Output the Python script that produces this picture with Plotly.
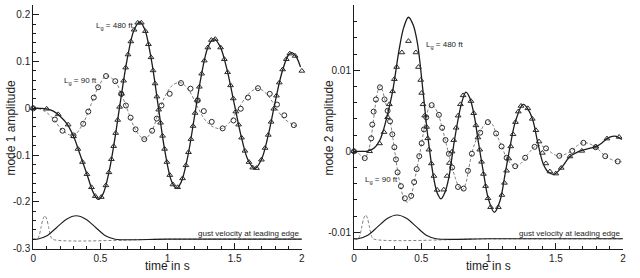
import numpy as np
import plotly.graph_objects as go

# ---------------- data ----------------
x_tick_vals = [0, 0.5, 1, 1.5, 2]
x_tick_text = ["0", "0.5", "1", "1.5", "2"]
y1_tick_vals = [-0.3, -0.2, -0.1, 0, 0.1, 0.2]
y1_tick_text = ["-0.3", "-0.2", "-0.1", "0", "0.1", "0.2"]
y2_tick_vals = [-0.01, 0, 0.01]
y2_tick_text = ["-0.01", "0", "0.01"]

# mode 1, L_g = 480 ft (solid line)
m1_480_line_t = [0, 0.05, 0.1, 0.15, 0.2, 0.25, 0.3, 0.35, 0.4, 0.45, 0.485, 0.52, 0.56, 0.6, 0.65, 0.7, 0.75, 0.793,
                 0.83, 0.88, 0.93, 0.98, 1.03, 1.066, 1.1, 1.15, 1.2, 1.25, 1.3, 1.343, 1.39, 1.44, 1.5, 1.55, 1.6,
                 1.65, 1.7, 1.75, 1.8, 1.85, 1.9, 1.926, 1.96, 1.99]
m1_480_line_v = [0, 0, -0.001, -0.006, -0.017, -0.033, -0.06, -0.1, -0.141, -0.182, -0.195, -0.183, -0.142, -0.079,
                 0.016, 0.106, 0.167, 0.185, 0.169, 0.103, 0.006, -0.091, -0.156, -0.171, -0.159, -0.104, -0.019,
                 0.068, 0.13, 0.149, 0.133, 0.086, 0.005, -0.062, -0.111, -0.129, -0.109, -0.057, 0.012, 0.075,
                 0.114, 0.119, 0.109, 0.088]
# mode 1, L_g = 480 ft (triangles)
m1_480_sym_t = [0, 0.1, 0.186, 0.26, 0.30, 0.333, 0.367, 0.40, 0.434, 0.462, 0.507, 0.541, 0.564, 0.582, 0.599, 0.614,
                0.629, 0.643, 0.658, 0.673, 0.688, 0.706, 0.727, 0.751, 0.778, 0.805, 0.835, 0.858, 0.877, 0.892,
                0.907, 0.921, 0.934, 0.948, 0.963, 0.978, 0.995, 1.017, 1.040, 1.075, 1.112, 1.137, 1.156, 1.174,
                1.19, 1.205, 1.221, 1.237, 1.254, 1.274, 1.3, 1.326, 1.355, 1.395, 1.423, 1.447, 1.469, 1.489, 1.508,
                1.529, 1.551, 1.576, 1.606, 1.634, 1.662, 1.699, 1.726, 1.75, 1.771, 1.791, 1.811, 1.832, 1.857,
                1.884, 1.91, 1.95, 2.0]
m1_480_sym_v = [0, -0.001, -0.013, -0.035, -0.06, -0.087, -0.115, -0.141, -0.169, -0.188, -0.19, -0.165, -0.137,
                -0.109, -0.081, -0.053, -0.025, 0.003, 0.031, 0.059, 0.087, 0.115, 0.143, 0.168, 0.183, 0.183, 0.165,
                0.137, 0.109, 0.081, 0.053, 0.025, -0.003, -0.031, -0.059, -0.087, -0.115, -0.143, -0.163, -0.169,
                -0.15, -0.122, -0.094, -0.066, -0.038, -0.01, 0.018, 0.046, 0.074, 0.102, 0.13, 0.146, 0.148, 0.13,
                0.105, 0.077, 0.049, 0.021, -0.007, -0.035, -0.063, -0.091, -0.115, -0.127, -0.128, -0.11, -0.085,
                -0.057, -0.029, -0.001, 0.027, 0.055, 0.083, 0.105, 0.117, 0.112, 0.08]
# mode 1, L_g = 90 ft (dashed line)
m1_90_line_t = [0, 0.05, 0.1, 0.16, 0.22, 0.3, 0.37, 0.41, 0.45, 0.485, 0.542, 0.61, 0.655, 0.69, 0.73, 0.77, 0.827,
                0.88, 0.93, 0.98, 1.04, 1.10, 1.16, 1.22, 1.28, 1.34, 1.41, 1.47, 1.53, 1.6, 1.673, 1.74, 1.8, 1.86,
                1.94, 1.98]
m1_90_line_v = [0, -0.002, -0.009, -0.026, -0.048, -0.058, -0.033, -0.007, 0.023, 0.045, 0.069, 0.058, 0.031, 0.006,
                -0.025, -0.05, -0.066, -0.05, -0.012, 0.025, 0.05, 0.0545, 0.038, 0.005, -0.025, -0.04, -0.043,
                -0.027, 0.0, 0.03, 0.0426, 0.03, 0.005, -0.02, -0.036, -0.04]
# mode 1, L_g = 90 ft (circles)
m1_90_sym_t = [0, 0.161, 0.218, 0.30, 0.372, 0.41, 0.451, 0.483, 0.542, 0.611, 0.655, 0.69, 0.725, 0.762, 0.827,
               0.885, 0.92, 0.955, 1.016, 1.10, 1.171, 1.225, 1.27, 1.329, 1.41, 1.491, 1.545, 1.599, 1.673, 1.761,
               1.815, 1.869, 1.94]
m1_90_sym_v = [0, -0.024, -0.048, -0.058, -0.033, -0.007, 0.023, 0.045, 0.069, 0.058, 0.031, 0.006, -0.02, -0.045,
               -0.066, -0.048, -0.022, 0.006, 0.031, 0.054, 0.042, 0.017, -0.006, -0.029, -0.043, -0.026, -0.001,
               0.023, 0.043, 0.031, 0.008, -0.015, -0.036]

# mode 2 values are given in thousandths (x 1e-3)
m2_480_line_t = [0, 0.05, 0.1, 0.15, 0.19, 0.214, 0.25, 0.287, 0.336, 0.37, 0.405, 0.44, 0.471, 0.513, 0.552, 0.594,
                 0.62, 0.647, 0.675, 0.704, 0.748, 0.802, 0.832, 0.86, 0.896, 0.92, 0.962, 0.999, 1.043, 1.085,
                 1.122, 1.159, 1.2, 1.257, 1.3, 1.33, 1.367, 1.404, 1.44, 1.485, 1.54, 1.605, 1.65, 1.693, 1.75,
                 1.796, 1.84, 1.88, 1.92, 1.95, 1.99]
m2_480_line_milli = [0, 0, 0.02, 0.4, 1.3, 2.37, 4.6, 7.4, 12.6, 15.3, 16.55, 15.6, 13.4, 7.4, 1.37, -3.45, -5.2,
                     -5.86, -5.1, -3.3, 1.5, 6.1, 7.3, 6.6, 4.18, 1.6, -2.6, -5.9, -7.55, -6.1, -2.9, 0.5, 3.7, 5.78,
                     5.0, 3.78, 0.97, -1.45, -2.5, -2.85, -2.05, -0.64, -0.2, 0.1, 0.35, 0.57, 1.0, 1.57, 1.85, 1.85,
                     1.45]
m2_480_sym_t = [0, 0.116, 0.19, 0.223, 0.25, 0.263, 0.287, 0.30, 0.317, 0.356, 0.405, 0.46, 0.479, 0.496, 0.503,
                0.513, 0.525, 0.54, 0.548, 0.557, 0.575, 0.594, 0.618, 0.667, 0.692, 0.709, 0.729, 0.741, 0.759,
                0.774, 0.791, 0.811, 0.869, 0.89, 0.906, 0.921, 0.935, 0.948, 0.962, 0.978, 0.996, 1.015, 1.073,
                1.099, 1.118, 1.134, 1.15, 1.165, 1.182, 1.2, 1.221, 1.241, 1.292, 1.325, 1.352, 1.375, 1.4, 1.426,
                1.456, 1.5, 1.54, 1.605, 1.693, 1.796, 1.88, 1.97]
m2_480_sym_milli = [0, 0, 0.97, 2.37, 4.2, 5.8, 7.4, 8.9, 10.4, 12.2, 13.6, 12.2, 10.4, 8.8, 7.2, 5.8, 4.4, 3.0, 1.6,
                    0.2, -1.5, -3.05, -4.77, -4.74, -3.05, -1.45, -0.04, 1.37, 2.9, 4.4, 5.8, 6.9, 6.2, 4.7, 3.2,
                    1.7, 0.2, -1.3, -2.8, -4.3, -5.8, -6.9, -6.9, -5.4, -3.9, -2.4, -0.9, 0.6, 2.1, 3.6, 4.9, 5.6,
                    5.3, 4.0, 2.6, 1.2, -0.2, -1.5, -2.5, -2.75, -2.05, -0.64, 0.05, 0.57, 1.57, 1.77]
m2_90_line_t = [0, 0.03, 0.06, 0.08, 0.1, 0.12, 0.14, 0.16, 0.18, 0.195, 0.21, 0.227, 0.25, 0.27, 0.29, 0.31, 0.33,
                0.35, 0.37, 0.395, 0.42, 0.445, 0.465, 0.485, 0.505, 0.52, 0.537, 0.555, 0.577, 0.6, 0.63, 0.655,
                0.68, 0.705, 0.73, 0.755, 0.78, 0.805, 0.83, 0.85, 0.875, 0.905, 0.94, 0.97, 1.0, 1.03, 1.056, 1.08,
                1.1, 1.134, 1.17, 1.2, 1.24, 1.276, 1.31, 1.342, 1.385, 1.427, 1.47, 1.51, 1.55, 1.59, 1.62, 1.66,
                1.698, 1.74, 1.796, 1.83, 1.865, 1.91, 1.956, 1.99]
m2_90_line_milli = [0, -0.2, -0.7, -0.85, -0.3, 0.9, 3.2, 5.8, 7.6, 8.0, 7.6, 6.5, 5.0, 3.6, 1.5, -0.8, -3.0, -4.6,
                    -5.8, -6.3, -5.8, -4.0, -2.4, -0.6, 1.2, 2.7, 4.2, 5.3, 5.7, 5.4, 4.4, 2.9, 1.3, -0.4, -2.0,
                    -3.4, -4.4, -4.75, -4.0, -2.4, -0.3, 1.3, 2.5, 3.3, 3.7, 3.3, 2.2, 1.3, 0.5, -0.8, -1.6, -1.85,
                    -1.5, -0.7, 0.0, 0.55, 0.72, 0.38, -0.2, -0.55, -0.5, -0.2, 0.1, 0.7, 1.05, 1.0, 0.5, 0.0, -0.55,
                    -1.0, -1.25, -1.3]
m2_90_sym_t = [0, 0.08, 0.128, 0.136, 0.146, 0.163, 0.193, 0.227, 0.25, 0.268, 0.285, 0.3, 0.312, 0.324, 0.349,
               0.378, 0.425, 0.447, 0.466, 0.485, 0.503, 0.52, 0.537, 0.577, 0.631, 0.655, 0.68, 0.705, 0.729, 0.773,
               0.815, 0.847, 0.876, 0.938, 0.995, 1.056, 1.097, 1.134, 1.198, 1.272, 1.342, 1.427, 1.526, 1.622,
               1.705, 1.796, 1.867, 1.96]
m2_90_sym_milli = [0, -0.84, 1.6, 3.3, 4.9, 6.4, 7.9, 6.4, 5.0, 3.7, 2.1, 0.5, -1.0, -2.6, -4.3, -5.8, -5.5, -3.8,
                   -2.2, -0.6, 1.0, 2.7, 4.2, 5.7, 4.5, 2.9, 1.4, -0.3, -2.0, -4.4, -4.6, -2.4, -0.3, 2.3, 3.6, 2.2,
                   0.6, -0.8, -1.84, -0.8, 0.55, 0.36, -0.56, 0.05, 1.05, 0.5, -0.6, -1.25]

# gust velocity traces (drawn on each plot's own scale)
gust480_t = [0, 0.03, 0.1025, 0.175, 0.2475, 0.32, 0.3925, 0.465, 0.5375, 0.61, 1.0, 2.0]
gust90_t = [0, 0.03, 0.044, 0.058, 0.072, 0.087, 0.101, 0.115, 0.129, 0.143, 1.0, 2.0]
gust_m1_v = [-0.28, -0.28, -0.2727, -0.255, -0.2373, -0.23, -0.2373, -0.255, -0.2727, -0.28, -0.28, -0.28]
gust_m2_milli = [-10.8, -10.8, -10.37, -9.335, -8.30, -7.87, -8.30, -9.335, -10.37, -10.8, -10.8, -10.8]

milli = 1e-3
m2_480_line_v = list(np.array(m2_480_line_milli) * milli)
m2_480_sym_v = list(np.array(m2_480_sym_milli) * milli)
m2_90_line_v = list(np.array(m2_90_line_milli) * milli)
m2_90_sym_v = list(np.array(m2_90_sym_milli) * milli)
gust_m2_v = list(np.array(gust_m2_milli) * milli)

# ---------------- figure ----------------
FONT = "Liberation Sans, Arial, Helvetica, sans-serif"
INK = "#1c1c1c"
GRAY = "#808080"
SYM = "#2a2a2a"

fig = go.Figure()


def add_panel(xa, ya, g_v, l480_t, l480_v, s480_t, s480_v, l90_t, l90_v, s90_t, s90_v):
    fig.add_trace(go.Scatter(x=gust90_t, y=g_v, mode="lines", xaxis=xa, yaxis=ya,
                             line=dict(color=GRAY, width=1, dash="3px,2px", shape="spline", smoothing=0.8),
                             showlegend=False, hoverinfo="skip"))
    fig.add_trace(go.Scatter(x=gust480_t, y=g_v, mode="lines", xaxis=xa, yaxis=ya,
                             line=dict(color=INK, width=1.1, shape="spline", smoothing=0.8),
                             showlegend=False, hoverinfo="skip"))
    fig.add_trace(go.Scatter(x=l90_t, y=l90_v, mode="lines", xaxis=xa, yaxis=ya,
                             line=dict(color=GRAY, width=1, dash="3px,2px", shape="spline", smoothing=1.0),
                             showlegend=False))
    fig.add_trace(go.Scatter(x=s90_t, y=s90_v, mode="markers", xaxis=xa, yaxis=ya, cliponaxis=False,
                             marker=dict(symbol="circle-open", size=5, color=SYM, line=dict(width=1, color=SYM)),
                             showlegend=False))
    fig.add_trace(go.Scatter(x=l480_t, y=l480_v, mode="lines", xaxis=xa, yaxis=ya,
                             line=dict(color=INK, width=1.3, shape="spline", smoothing=1.0),
                             showlegend=False))
    fig.add_trace(go.Scatter(x=s480_t, y=s480_v, mode="markers", xaxis=xa, yaxis=ya, cliponaxis=False,
                             marker=dict(symbol="triangle-up-open", size=5, color=SYM, line=dict(width=1, color=SYM)),
                             showlegend=False))


add_panel("x", "y", gust_m1_v, m1_480_line_t, m1_480_line_v, m1_480_sym_t, m1_480_sym_v,
          m1_90_line_t, m1_90_line_v, m1_90_sym_t, m1_90_sym_v)
add_panel("x2", "y2", gust_m2_v, m2_480_line_t, m2_480_line_v, m2_480_sym_t, m2_480_sym_v,
          m2_90_line_t, m2_90_line_v, m2_90_sym_t, m2_90_sym_v)

W, H = 640, 278


def px_x(p):
    return p / W


def px_y(p):
    return 1 - p / H


common_axis = dict(showline=True, linecolor=INK, linewidth=1, ticks="inside", ticklen=6, tickwidth=1,
                   tickcolor=INK, showgrid=False, zeroline=False,
                   tickfont=dict(family=FONT, size=10, color=INK))

ydom = [px_y(254), px_y(5.6)]
fig.update_layout(
    width=W, height=H, autosize=False,
    margin=dict(l=0, r=0, t=0, b=0),
    paper_bgcolor="white", plot_bgcolor="white",
    showlegend=False,
    xaxis=dict(domain=[px_x(30.5), px_x(301.7)], range=[0, 2], anchor="y",
               tickmode="array", tickvals=x_tick_vals, ticktext=x_tick_text,
               minor=dict(ticks="inside", dtick=0.1, tick0=0, ticklen=3, tickcolor=INK, tickwidth=1),
               **common_axis),
    yaxis=dict(domain=ydom, range=[-0.3, 0.22], anchor="x",
               tickmode="array", tickvals=y1_tick_vals, ticktext=y1_tick_text,
               minor=dict(ticks="inside", dtick=0.02, tick0=0, ticklen=3, tickcolor=INK, tickwidth=1),
               **common_axis),
    xaxis2=dict(domain=[px_x(354.3), px_x(626)], range=[0, 2], anchor="y2",
                tickmode="array", tickvals=x_tick_vals, ticktext=x_tick_text,
                minor=dict(ticks="inside", dtick=0.1, tick0=0, ticklen=3, tickcolor=INK, tickwidth=1),
                **common_axis),
    yaxis2=dict(domain=ydom, range=[-0.012, 0.018], anchor="x2",
                tickmode="array", tickvals=y2_tick_vals, ticktext=y2_tick_text,
                minor=dict(ticks="inside", dtick=0.002, tick0=0, ticklen=3, tickcolor=INK, tickwidth=1),
                **common_axis),
)

ann_font = dict(family=FONT, size=8, color=INK)
title_font = dict(family=FONT, size=12, color=INK)
annotations = [
    dict(text="time in s", x=px_x(166), y=px_y(271.5), xref="paper", yref="paper", showarrow=False,
         xanchor="center", yanchor="middle", font=title_font),
    dict(text="time in s", x=px_x(490), y=px_y(271.5), xref="paper", yref="paper", showarrow=False,
         xanchor="center", yanchor="middle", font=title_font),
    dict(text="mode 1 amplitude", x=px_x(8.5), y=px_y(130), xref="paper", yref="paper", showarrow=False,
         textangle=-90, xanchor="center", yanchor="middle", font=title_font),
    dict(text="mode 2 amplitude", x=px_x(329.5), y=px_y(130), xref="paper", yref="paper", showarrow=False,
         textangle=-90, xanchor="center", yanchor="middle", font=title_font),
    dict(text="gust velocity at leading edge", x=2.0, y=-0.268, xref="x", yref="y", showarrow=False,
         xanchor="right", yanchor="middle", font=ann_font),
    dict(text="gust velocity at leading edge", x=2.0, y=-0.01016, xref="x2", yref="y2", showarrow=False,
         xanchor="right", yanchor="middle", font=ann_font),
    dict(text="L<sub>g</sub> = 480 ft", x=0.454, y=0.176, xref="x", yref="y", showarrow=False,
         xanchor="left", yanchor="middle", font=ann_font),
    dict(text="L<sub>g</sub> = 90 ft", x=0.218, y=0.0587, xref="x", yref="y", showarrow=False,
         xanchor="left", yanchor="middle", font=ann_font),
    dict(text="L<sub>g</sub> = 480 ft", x=0.52, y=0.0131, xref="x2", yref="y2", showarrow=False,
         xanchor="left", yanchor="middle", font=ann_font),
    dict(text="L<sub>g</sub> = 90 ft", x=0.066, y=-0.00357, xref="x2", yref="y2", showarrow=False,
         xanchor="left", yanchor="middle", font=ann_font),
]
fig.update_layout(annotations=annotations)

fig.write_html("out.html")
